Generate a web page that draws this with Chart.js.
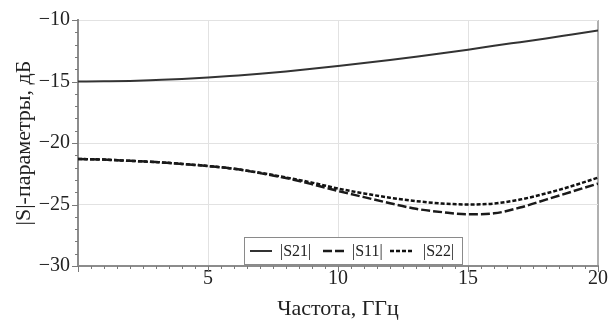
<!DOCTYPE html>
<html>
<head>
<meta charset="utf-8">
<script src="https://cdn.jsdelivr.net/npm/chart.js@4.4.0/dist/chart.umd.min.js"></script>
<style>
  html, body { margin: 0; padding: 0; background: #fff; }
</style>
</head>
<body>
<canvas id="myChart" width="609" height="322"></canvas>
<script>
// données (fréquence en GHz, |S| en dB)
const frequences = [0, 1, 2, 3, 4, 5, 6, 7, 8, 9, 10, 11, 12, 13, 14, 15, 16, 17, 18, 19, 20];
const s21 = [-15.0, -14.98, -14.95, -14.88, -14.8, -14.68, -14.53, -14.37, -14.18, -13.97, -13.74,
             -13.5, -13.25, -12.98, -12.7, -12.41, -12.1, -11.8, -11.5, -11.18, -10.86];
const s11 = [-21.3, -21.35, -21.45, -21.55, -21.7, -21.87, -22.1, -22.45, -22.85, -23.35, -23.9,
             -24.4, -24.9, -25.35, -25.62, -25.8, -25.72, -25.25, -24.6, -23.95, -23.3];
const s22 = [-21.3, -21.35, -21.45, -21.55, -21.7, -21.87, -22.1, -22.42, -22.8, -23.22, -23.7,
             -24.1, -24.45, -24.72, -24.92, -25.0, -24.92, -24.6, -24.1, -23.5, -22.82];
const noms = ['|S21|', '|S11|', '|S22|'];

const graph = document.getElementById('myChart');
const police = "'Liberation Serif', 'Times New Roman', serif";

// transforme les tableaux en points {x, y}
function points(serie) {
    return frequences.map((f, i) => ({ x: f, y: serie[i] }));
}

// petites graduations (0.5 GHz et 1 dB) tracées vers l'extérieur
const graduations = {
    id: 'graduations',
    afterDraw(chart) {
        const ctx = chart.ctx;
        const sx = chart.scales.x;
        const sy = chart.scales.y;
        const bas = chart.chartArea.bottom;
        const gauche = chart.chartArea.left;
        ctx.save();
        ctx.strokeStyle = '#7a7a7a';
        ctx.lineWidth = 1;
        ctx.beginPath();
        for (let v = 0; v <= 20; v += 0.5) {
            const px = Math.round(sx.getPixelForValue(v)) + 0.5;
            const l = (v % 5 === 0) ? 6 : 3;
            ctx.moveTo(px, bas);
            ctx.lineTo(px, bas + l);
        }
        for (let v = -30; v <= -10; v += 1) {
            const py = Math.round(sy.getPixelForValue(v)) + 0.5;
            const l = (v % 5 === 0) ? 6 : 3;
            ctx.moveTo(gauche, py);
            ctx.lineTo(gauche - l, py);
        }
        ctx.stroke();
        ctx.restore();
    }
};

// légende encadrée dans le bas du graphe
const legende = {
    id: 'legende',
    afterDraw(chart) {
        const ctx = chart.ctx;
        const x0 = 244, y0 = 237, x1 = 462, y1 = 264;
        ctx.save();
        ctx.fillStyle = '#fff';
        ctx.fillRect(x0, y0, x1 - x0, y1 - y0);
        ctx.strokeStyle = '#8a8a8a';
        ctx.lineWidth = 1;
        ctx.strokeRect(x0 + 0.5, y0 + 0.5, x1 - x0, y1 - y0);
        const positions = [[250, 272, 280], [323, 347, 352], [390, 412, 423]];
        const ym = 251;
        chart.data.datasets.forEach((ds, i) => {
            const p = positions[i];
            ctx.strokeStyle = ds.borderColor;
            ctx.lineWidth = ds.borderWidth;
            ctx.setLineDash(ds.borderDash || []);
            ctx.beginPath();
            ctx.moveTo(p[0], ym);
            ctx.lineTo(p[1], ym);
            ctx.stroke();
            ctx.setLineDash([]);
            ctx.fillStyle = '#222';
            ctx.font = '16px ' + police;
            ctx.textBaseline = 'middle';
            ctx.fillText(ds.label, p[2], ym + 1);
        });
        ctx.restore();
    }
};

new Chart(graph, {
    type: 'line',
    data: {
        datasets: [{
            label: noms[0],
            data: points(s21),
            borderColor: '#333',
            borderWidth: 2
        }, {
            label: noms[1],
            data: points(s11),
            borderColor: '#1a1a1a',
            borderWidth: 2.5,
            borderDash: [9, 3]
        }, {
            label: noms[2],
            data: points(s22),
            borderColor: '#111',
            borderWidth: 2.5,
            borderDash: [4, 2]
        }]
    },
    options: {
        responsive: false,
        animation: false,
        layout: { padding: { left: 0, right: 3, top: 20, bottom: 0 } },
        elements: {
            point: { radius: 0 },
            line: { cubicInterpolationMode: 'monotone' }
        },
        plugins: {
            legend: { display: false },
            tooltip: { enabled: false }
        },
        scales: {
            x: {
                type: 'linear',
                min: 0,
                max: 20,
                afterFit: (s) => { s.height = 56; },
                border: { color: '#8c8c8c', width: 2 },
                grid: {
                    drawTicks: false,
                    color: (c) => (c.tick && c.tick.value === 20) ? '#b0b0b0' : '#e2e2e2',
                    lineWidth: (c) => (c.tick && c.tick.value === 20) ? 2 : 1
                },
                ticks: {
                    stepSize: 5,
                    padding: 1,
                    color: '#222',
                    font: { family: police, size: 20 },
                    callback: (v) => v === 0 ? '' : v
                },
                title: {
                    display: true,
                    text: 'Частота, ГГц',
                    color: '#222',
                    font: { family: police, size: 22 },
                    padding: { top: 2, bottom: 0 }
                }
            },
            y: {
                min: -30,
                max: -10,
                afterFit: (s) => { s.width = 78; },
                border: { color: '#8c8c8c', width: 2 },
                grid: {
                    drawTicks: false,
                    color: '#e2e2e2'
                },
                ticks: {
                    stepSize: 5,
                    padding: 8,
                    color: '#222',
                    font: { family: police, size: 20 },
                    callback: (v) => String(v).replace('-', '\u2212')
                },
                title: {
                    display: true,
                    text: '|S|-параметры, дБ',
                    color: '#222',
                    font: { family: police, size: 22 },
                    padding: { top: 11, bottom: 4 }
                }
            }
        }
    },
    plugins: [graduations, legende]
});
</script>
</body>
</html>
